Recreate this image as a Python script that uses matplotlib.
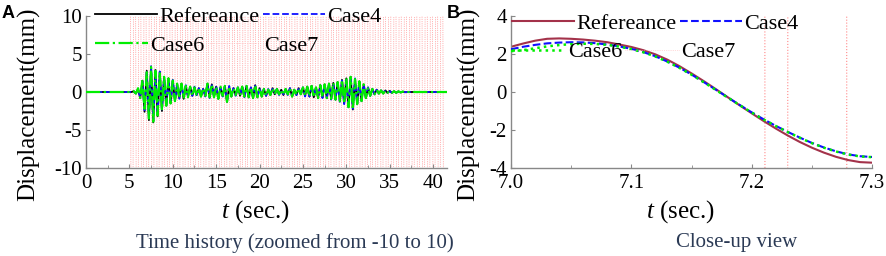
import numpy as np
import matplotlib
matplotlib.use('Agg')
import matplotlib.pyplot as plt
from matplotlib.ticker import MultipleLocator, FormatStrFormatter

plt.rcParams['font.family'] = ['Liberation Serif', 'DejaVu Serif']
plt.rcParams['mathtext.fontset'] = 'custom'
plt.rcParams['mathtext.it'] = 'Liberation Serif:italic'
plt.rcParams['mathtext.rm'] = 'Liberation Serif'
plt.rcParams['axes.unicode_minus'] = False

# ---- panel A : time history, half-cycle peaks every 0.25 s from 5.5 s
t0_a, dt_a = 5.5, 0.25
ref_a = [0.1, -0.2, 0.4, -0.8, 1.5, -2.6, 2.8, -3.7, 3.3, -4.0, 2.9, -3.2, 2.6, -2.5, 2.0, -1.8, 1.8, -1.5, 1.5, -1.2, 1.0, -0.8,
         1.1, -0.9, 0.8, -0.6, 0.7, -0.5, 0.6, -0.4, 0.5, -0.6, 0.4, -0.5, 1.1, -0.7, 1.0, -0.6, 0.7, -0.9, 0.6, -0.5, 0.8, -1.3, 0.7, -0.6,
         0.5, -0.4, 0.6, -0.5, 0.7, -0.6, 0.8, -0.7, 0.6, -0.8, 0.9, -0.7, 0.5, -0.6, 0.4, -0.5, 0.3, -0.4, 0.5, -0.3, 0.4, -0.3, 0.3, -0.4,
         0.4, -0.3, 0.5, -0.6, 0.3, -0.4, 0.5, -0.3, 0.6, -0.5, 0.7, -0.6, 0.8, -0.7, 0.6, -0.8, 0.9, -0.7, 1.0, -0.8, 1.1, -0.9, 1.2, -1.0,
         1.3, -1.2, 1.6, -1.5, 1.8, -2.0, 2.0, -2.3, 1.7, -1.6, 1.4, -1.2, 1.0, -0.8, 0.6, -0.5, 0.4, -0.3, 0.3, -0.2, 0.2, -0.2, 0.2, -0.1,
         0.15, -0.1, 0.1, -0.1, 0.08, -0.05, 0.05, -0.03]
case4_a = [0.1, -0.2, 0.4, -0.7, 1.4, -2.4, 2.6, -3.4, 3.4, -3.8, 2.7, -3.0, 2.7, -2.3, 1.9, -1.9, 1.7, -1.4, 1.6, -1.1, 1.0, -0.9,
           1.0, -0.8, 0.9, -0.6, 0.6, -0.5, 0.7, -0.4, 0.5, -0.5, 0.4, -0.6, 1.0, -0.8, 0.9, -0.6, 0.8, -0.8, 0.6, -0.6, 0.7, -1.2, 0.8, -0.5,
           0.5, -0.5, 0.6, -0.4, 0.7, -0.7, 0.7, -0.7, 0.6, -0.7, 0.8, -0.8, 0.5, -0.5, 0.4, -0.5, 0.4, -0.4, 0.4, -0.3, 0.4, -0.4, 0.3, -0.3,
           0.4, -0.4, 0.5, -0.5, 0.3, -0.4, 0.4, -0.3, 0.6, -0.6, 0.6, -0.6, 0.8, -0.6, 0.6, -0.7, 0.9, -0.8, 0.9, -0.8, 1.0, -1.0, 1.1, -1.0,
           1.2, -1.3, 1.5, -1.6, 1.7, -2.1, 1.9, -2.2, 1.8, -1.5, 1.3, -1.2, 1.0, -0.7, 0.6, -0.5, 0.4, -0.3, 0.3, -0.2, 0.2, -0.1, 0.2, -0.1,
           0.1, -0.1, 0.1, -0.08, 0.06, -0.05, 0.04, -0.03]
case6_a = [0.1, -0.2, 0.5, -0.8, 1.6, -2.5, 2.6, -3.5, 3.3, -3.9, 2.8, -3.1, 2.6, -2.4, 2.0, -1.8, 1.8, -1.5, 1.5, -1.2, 1.1, -0.8,
           1.1, -0.9, 0.8, -0.7, 0.7, -0.5, 0.6, -0.5, 0.5, -0.6, 0.5, -0.5, 1.1, -0.7, 1.0, -0.7, 0.7, -0.9, 0.7, -0.5, 0.8, -1.3, 0.7, -0.6,
           0.5, -0.4, 0.6, -0.5, 0.7, -0.6, 0.8, -0.7, 0.6, -0.8, 0.9, -0.7, 0.5, -0.6, 0.4, -0.5, 0.3, -0.4, 0.5, -0.3, 0.4, -0.3, 0.3, -0.4,
           0.4, -0.3, 0.5, -0.6, 0.3, -0.4, 0.5, -0.3, 0.6, -0.5, 0.7, -0.6, 0.8, -0.7, 0.6, -0.8, 0.9, -0.7, 1.0, -0.8, 1.1, -0.9, 1.2, -1.0,
           1.3, -1.2, 1.6, -1.5, 1.8, -2.0, 2.0, -2.3, 1.7, -1.6, 1.4, -1.2, 1.0, -0.8, 0.6, -0.5, 0.4, -0.3, 0.3, -0.2, 0.2, -0.2, 0.2, -0.1,
           0.15, -0.1, 0.1, -0.1, 0.08, -0.05, 0.05, -0.03]
# case 7 diverges far outside the +-10 window from t = 5 s on
t0_7, dt_7 = 5.0, 0.3
case7_a = [60, -60, 60, -60, 60, -60, 60, -60, 60, -60, 60, -60, 60, -60, 60, -60, 60, -60, 60, -60,
           60, -60, 60, -60, 60, -60, 60, -60, 60, -60, 60, -60, 60, -60, 60, -60, 60, -60, 60, -60,
           60, -60, 60, -60, 60, -60, 60, -60, 60, -60, 60, -60, 60, -60, 60, -60, 60, -60, 60, -60,
           60, -60, 60, -60, 60, -60, 60, -60, 60, -60, 60, -60, 60, -60, 60, -60, 60, -60, 60, -60,
           60, -60, 60, -60, 60, -60, 60, -60, 60, -60, 60, -60, 60, -60, 60, -60, 60, -60, 60, -60,
           60, -60, 60, -60, 60, -60, 60, -60, 60, -60, 60, -60, 60, -60, 60, -60, 60, -60, 60, -60,
           60, -60]
t_end_a = 41.6

# ---- panel B : close-up 7.00 - 7.30 s, every 0.01 s
t_b = [7.00, 7.01, 7.02, 7.03, 7.04, 7.05, 7.06, 7.07, 7.08, 7.09, 7.10, 7.11, 7.12, 7.13, 7.14, 7.15,
       7.16, 7.17, 7.18, 7.19, 7.20, 7.21, 7.22, 7.23, 7.24, 7.25, 7.26, 7.27, 7.28, 7.29, 7.30]
ref_b = [2.38, 2.55, 2.70, 2.80, 2.82, 2.80, 2.76, 2.70, 2.62, 2.50, 2.37, 2.20, 1.98, 1.70, 1.36, 0.98,
         0.58, 0.16, -0.27, -0.70, -1.12, -1.53, -1.92, -2.29, -2.63, -2.93, -3.19, -3.41, -3.58, -3.69, -3.72]
case4_b = [2.25, 2.38, 2.48, 2.56, 2.60, 2.62, 2.61, 2.57, 2.50, 2.40, 2.27, 2.10, 1.88, 1.60, 1.28, 0.92,
           0.53, 0.13, -0.28, -0.68, -1.07, -1.44, -1.78, -2.10, -2.40, -2.68, -2.92, -3.12, -3.28, -3.38, -3.42]
case6_b = [2.15, 2.20, 2.30, 2.40, 2.47, 2.52, 2.54, 2.53, 2.48, 2.39, 2.26, 2.09, 1.87, 1.59, 1.27, 0.91,
           0.52, 0.12, -0.29, -0.69, -1.08, -1.45, -1.79, -2.11, -2.41, -2.69, -2.93, -3.13, -3.29, -3.39, -3.43]
t7_b = [7.00, 7.2105, 7.2115, 7.2295, 7.2305, 7.2785, 7.2795, 7.30]
case7_b = [60, 60, -60, -60, 60, 60, -60, -60]

labels = ['Refereance', 'Case4', 'Case6', 'Case7']


def series_a(vals, t0, dt):
    t = t0 + dt * np.arange(len(vals))
    t = np.concatenate([[0.0, t0 - dt], t, [t[-1] + dt, t_end_a]])
    v = np.concatenate([[0.0, 0.0], vals, [0.0, 0.0]])
    return t, v


fig = plt.figure(figsize=(8.86, 2.56), dpi=100)
axA = fig.add_axes([86/886, 1-168/256, 361/886, 152/256])
axB = fig.add_axes([511/886, 1-168/256, 361/886, 152/256])

t7, v7 = t0_7 + dt_7*np.arange(len(case7_a)), np.array(case7_a)
axA.plot(t7, v7, ':', color='#ff7070', lw=0.5, zorder=1)
hA = []
hA += axA.plot(*series_a(ref_a, t0_a, dt_a), '-', color='black', lw=1.3, zorder=2)
hA += axA.plot(*series_a(case4_a, t0_a, dt_a), '--', color='#1010ff', lw=1.3, zorder=3)
hA += axA.plot(*series_a(case6_a, t0_a, dt_a), '-.', color='#00ee00', lw=1.6, zorder=4)
hA += axA.plot([], [], ':', color='#ffbbbb', lw=0.5)
axA.set_xlim(0, t_end_a)
axA.set_ylim(-10, 10)
axA.xaxis.set_major_locator(MultipleLocator(5))
axA.xaxis.set_minor_locator(MultipleLocator(2.5))
axA.yaxis.set_major_locator(MultipleLocator(5))

hB = []
axB.plot(t7_b, case7_b, ':', color='#ff8888', lw=0.8, zorder=1)
hB += axB.plot(t_b, ref_b, '-', color='#a3324a', lw=1.5, zorder=2)
hB += axB.plot(t_b, case4_b, '--', color='#1010ff', lw=1.5, zorder=3)
hB += axB.plot(t_b, case6_b, ':', color='#00ee00', lw=1.8, zorder=4)
hB += axB.plot([], [], ':', color='#ffbbbb', lw=0.5)
axB.set_xlim(7.0, 7.3)
axB.set_ylim(-4, 4)
axB.xaxis.set_major_locator(MultipleLocator(0.1))
axB.xaxis.set_minor_locator(MultipleLocator(0.05))
axB.yaxis.set_major_locator(MultipleLocator(2))
axB.xaxis.set_major_formatter(FormatStrFormatter('%.1f'))

for ax, h, lx, ly, ylx in [(axA, hA, 0.025, 1.065, -0.127), (axB, hB, 0.003, 1.02, -0.086)]:
    for s in ['top', 'right']:
        ax.spines[s].set_visible(False)
    for s in ['left', 'bottom']:
        ax.spines[s].set_color('#888888')
        ax.spines[s].set_linewidth(1.0)
    ax.tick_params(which='both', direction='in', color='#888888', labelsize=15)
    ax.tick_params(which='major', length=3)
    ax.tick_params(which='minor', length=2)
    ax.tick_params(axis='x', pad=4)
    ax.tick_params(axis='y', pad=3)
    ax.set_xlabel('$t$ (sec.)', fontsize=18, labelpad=0)
    ax.xaxis.set_label_coords(0.47, -0.2)
    ax.set_ylabel('Displacement(mm)', fontsize=18)
    ax.yaxis.set_label_coords(ylx, 0.42)
    # legend laid out row by row (each row packed on its own)
    kw = dict(ncol=2, loc='upper left', frameon=False, fontsize=16,
              handletextpad=0.1, columnspacing=0.15, borderpad=0, borderaxespad=0)
    row1 = ax.legend([h[0], h[1]], [labels[0], labels[1]], bbox_to_anchor=(lx, ly),
                     handlelength=2.8, **kw)
    ax.add_artist(row1)
    ax.legend([h[2], h[3]], [labels[2], labels[3]], bbox_to_anchor=(lx, ly - 0.19),
              handlelength=2.4, **kw)

fig.text(295/886, 1-243/256, 'Time history (zoomed from -10 to 10)', ha='center', va='center',
         fontsize=15, color='#2b3a55')
fig.text(737/886, 1-243/256, 'Close-up view', ha='center', va='center', fontsize=15, color='#2b3a55')
fig.text(0.002, 1-5/256, 'A', ha='left', va='top', fontsize=13, fontweight='bold', family='Liberation Sans')
fig.text(447/886, 1-5/256, 'B', ha='left', va='top', fontsize=13, fontweight='bold', family='Liberation Sans')

fig.savefig('out.png', dpi=100)
